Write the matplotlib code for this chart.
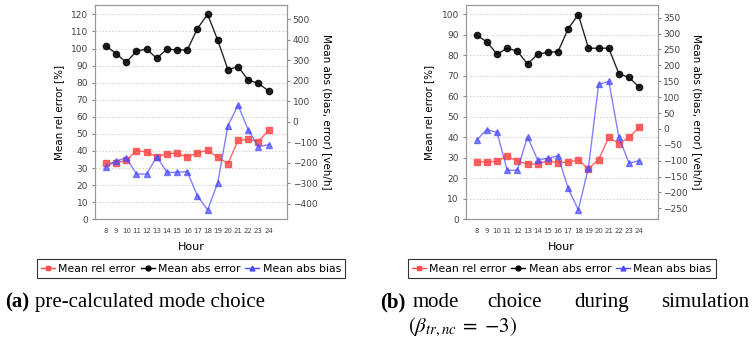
import matplotlib.pyplot as plt
from matplotlib.lines import Line2D

plt.rcParams['mathtext.fontset'] = 'stix'

hours = list(range(8, 25))

# (a) pre-calculated mode choice
rel_err_a = [32.8, 33.2, 34.5, 40.2, 39.4, 36.7, 38.4, 38.8, 36.3, 39.0,
             40.4, 36.3, 32.6, 46.2, 46.8, 45.5, 52.1]
abs_err_a = [370, 333, 290, 346, 355, 310, 355, 351, 351, 455,
             524, 398, 255, 269, 204, 188, 151]
abs_bias_a = [-218, -190, -176, -254, -254, -169, -246, -246, -242, -361,
              -429, -296, -18, 81, -39, -121, -111]

# (b) mode choice during simulation
rel_err_b = [28.0, 28.0, 28.3, 30.9, 28.3, 27.0, 27.0, 28.5, 27.6, 28.0,
             28.8, 24.7, 29.1, 40.0, 36.9, 40.0, 44.9]
abs_err_b = [295, 274, 235, 254, 245, 204, 235, 241, 243, 315,
             360, 254, 254, 254, 173, 162, 131]
abs_bias_b = [-35, -2, -11, -130, -130, -25, -98, -92, -85, -187,
              -255, -122, 140, 150, -27, -108, -100]

RED = '#ff4c4c'
BLUE = '#4c4cff'
TICK = '#444444'

fig = plt.figure(figsize=(7.53, 3.42), dpi=100)


def draw_panel(left, rel, err, bias, ylim_l, yticks_l, ylim_r, yticks_r):
    ax = fig.add_axes([left, 0.3588, 0.255, 0.6275])
    ax2 = ax.twinx()

    ax.plot(hours, rel, color=RED, lw=1, alpha=0.85, marker='s', ms=4.5,
            mfc=RED, mec=RED)
    ax2.plot(hours, err, color='black', lw=1, alpha=0.85, marker='o', ms=4.5,
             mfc='black', mec='black')
    ax2.plot(hours, bias, color=BLUE, lw=1, alpha=0.7, marker='^', ms=5,
             mfc=BLUE, mec=BLUE)

    ax.set_xlim(6.92, 25.82)
    ax.set_ylim(*ylim_l)
    ax2.set_ylim(*ylim_r)
    ax.set_xticks(hours)
    ax.set_xticklabels([str(h) for h in hours], fontsize=5, color=TICK)
    ax.set_yticks(yticks_l)
    ax.set_yticklabels([str(v) for v in yticks_l], fontsize=6.5, color=TICK)
    ax2.set_yticks(yticks_r)
    ax2.set_yticklabels([str(v).replace('-', '\u2212') for v in yticks_r],
                        fontsize=6.5, color=TICK)
    ax.tick_params(axis='x', length=0, pad=6)
    ax.tick_params(axis='y', length=2, color='#888888', pad=3)
    ax2.tick_params(axis='y', length=2, color='#888888', pad=2)

    ax.grid(axis='y', color='#cccccc', ls=(0, (2, 2)), lw=0.6)
    ax.set_axisbelow(True)
    for a in (ax, ax2):
        for s in a.spines.values():
            s.set_color('#999999')
            s.set_linewidth(0.8)

    ax.set_xlabel('Hour', fontsize=8, labelpad=6)
    ax.set_ylabel('Mean rel error [%]', fontsize=7.5, labelpad=5)
    ax2.set_ylabel('Mean abs (bias, error) [veh/h]', fontsize=7.5,
                   rotation=270, va='bottom', labelpad=3)

    handles = [
        Line2D([], [], color=RED, marker='s', ms=3.5, lw=1),
        Line2D([], [], color='black', marker='o', ms=3.5, lw=1),
        Line2D([], [], color=BLUE, marker='^', ms=3.5, lw=1),
    ]
    leg = fig.legend(handles, ['Mean rel error', 'Mean abs error', 'Mean abs bias'],
                     loc='center', bbox_to_anchor=(left + 0.1275, 0.2149),
                     ncol=3, fontsize=7.8, frameon=True, fancybox=False,
                     edgecolor='black', handlelength=1.3, handletextpad=0.3,
                     columnspacing=0.45, borderpad=0.4, borderaxespad=0)
    leg.get_frame().set_linewidth(0.8)
    return ax


draw_panel(0.1262, rel_err_a, abs_err_a, abs_bias_a,
           (0, 125.7), list(range(0, 121, 10)),
           (-474.7, 571.5), list(range(-400, 501, 100)))
draw_panel(0.6185, rel_err_b, abs_err_b, abs_bias_b,
           (0, 104.7), list(range(0, 101, 10)),
           (-284.6, 391), list(range(-250, 351, 50)))

# captions
serif = 'Liberation Serif'
fs = 15
base1 = 1 - 307 / 342
base2 = 1 - 332 / 342
fig.text(5 / 753, base1, '(a)', fontsize=fs, family=serif, weight='bold', va='baseline')
fig.text(35 / 753, base1, 'pre-calculated mode choice', fontsize=fs, family=serif, va='baseline')
fig.text(380 / 753, base1, '(b)', fontsize=fs, family=serif, weight='bold', va='baseline')
for x, w in [(413, 'mode'), (487, 'choice'), (574, 'during'), (661, 'simulation')]:
    fig.text(x / 753, base1, w, fontsize=fs, family=serif, va='baseline')
fig.text(408 / 753, base2, r'$(\beta_{tr,nc}\;=\;{-3})$', fontsize=fs, va='baseline')

fig.savefig('out.png', dpi=100)
